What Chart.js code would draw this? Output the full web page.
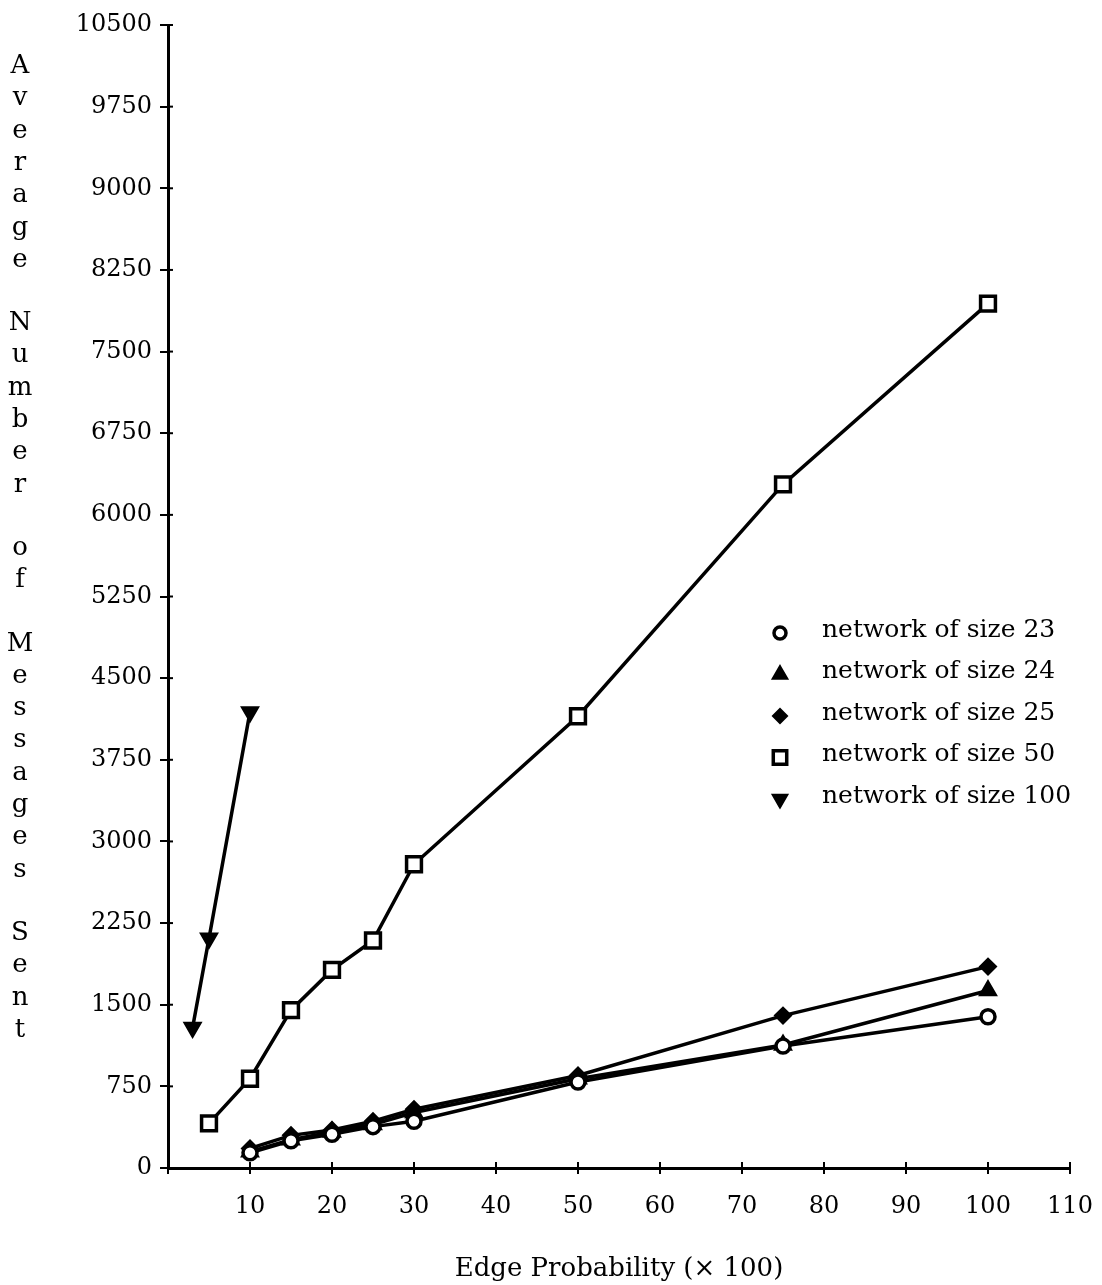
<!DOCTYPE html>
<html>
<head>
<meta charset="utf-8">
<script src="https://cdn.jsdelivr.net/npm/chart.js@4.4.1/dist/chart.umd.min.js"></script>
<style>
  html, body { margin: 0; padding: 0; background: #fff; }
  #wrap { width: 1102px; height: 1285px; position: relative; }
</style>
</head>
<body>
<div id="wrap"><canvas id="chart"></canvas></div>
<script>
// edge probabilities (x 100)
const smallX = [10, 15, 20, 25, 30, 50, 75, 100];
const size50X = [5, 10, 15, 20, 25, 30, 50, 75, 100];
const size100X = [3, 5, 10];

// average number of messages sent
const size23 = [140, 250, 310, 380, 430, 790, 1120, 1390];
const size24 = [150, 260, 330, 400, 510, 820, 1130, 1630];
const size25 = [180, 300, 350, 430, 540, 850, 1400, 1850];
const size50 = [410, 820, 1450, 1820, 2090, 2790, 4150, 6280, 7940];
const size100 = [1290, 2110, 4190];

const seriesLabels = ["network of size 23", "network of size 24", "network of size 25",
  "network of size 50", "network of size 100"];
const yTitle = "Average Number of Messages Sent";
const xTitle = "Edge Probability (\u00d7 100)";

const FONT = "'DejaVu Serif', 'Liberation Serif', serif";

function pts(xs, ys) {
  return xs.map((x, i) => ({ x: x, y: ys[i] }));
}

function makeSet(label, data, style, rotation, radius, fillColor) {
  return {
    label: label,
    data: data,
    borderColor: "#000",
    borderWidth: 3.5,
    pointStyle: style,
    pointRotation: rotation,
    pointRadius: radius,
    pointBorderWidth: 3.5,
    pointBackgroundColor: fillColor,
    pointBorderColor: "#000",
    tension: 0,
    fill: false,
  };
}

// stacked letters for the y title plus the legend inside the plot
const extras = {
  id: "extras",
  afterDraw(chart) {
    const ctx = chart.ctx;
    const area = chart.chartArea;
    ctx.save();
    ctx.fillStyle = "#000";
    ctx.font = "26px " + FONT;
    ctx.textAlign = "center";
    ctx.textBaseline = "alphabetic";
    let y = 73;
    yTitle.split("").forEach((ch) => {
      if (ch !== " ") ctx.fillText(ch, 20, y);
      y += ch === " " ? 31 : 32.3;
    });

    // inner half of the tick marks
    const xs = chart.scales.x, ys = chart.scales.y;
    ctx.strokeStyle = "#000";
    ctx.lineWidth = 2;
    xs.ticks.forEach((t) => {
      const px = xs.getPixelForValue(t.value);
      ctx.beginPath(); ctx.moveTo(px, area.bottom); ctx.lineTo(px, area.bottom - 6); ctx.stroke();
    });
    ys.ticks.forEach((t) => {
      const py = ys.getPixelForValue(t.value);
      ctx.beginPath(); ctx.moveTo(area.left, py); ctx.lineTo(area.left + 5, py); ctx.stroke();
    });

    // legend
    const lx = area.left + 612, tx = area.left + 654;
    let ly = 633;
    ctx.textAlign = "left";
    ctx.textBaseline = "middle";
    ctx.font = "25px " + FONT;
    chart.data.datasets.forEach((ds) => {
      ctx.lineWidth = 3.5;
      ctx.fillStyle = ds.pointBackgroundColor;
      Chart.helpers.drawPoint(ctx, {
        pointStyle: ds.pointStyle,
        rotation: ds.pointRotation,
        radius: ds.pointRadius - 1,
        borderWidth: 3.5,
      }, lx, ly);
      ctx.fillStyle = "#000";
      ctx.fillText(ds.label, tx, ly - 3);
      ly += 41.5;
    });
    ctx.restore();
  },
};

new Chart(document.getElementById("chart"), {
  type: "line",
  data: {
    datasets: [
      makeSet(seriesLabels[0], pts(smallX, size23), "circle", 0, 7, "#fff"),
      makeSet(seriesLabels[1], pts(smallX, size24), "triangle", 0, 8, "#000"),
      makeSet(seriesLabels[2], pts(smallX, size25), "rectRot", 0, 7, "#000"),
      makeSet(seriesLabels[3], pts(size50X, size50), "rect", 0, 10.5, "#fff"),
      makeSet(seriesLabels[4], pts(size100X, size100), "triangle", 180, 8, "#000"),
    ],
  },
  options: {
    responsive: true,
    maintainAspectRatio: false,
    animation: false,
    layout: { padding: { top: 25, right: 32, left: 0, bottom: 0 } },
    plugins: { legend: { display: false }, tooltip: { enabled: false } },
    scales: {
      x: {
        type: "linear",
        min: 0,
        max: 110,
        afterFit: (s) => { s.height = 117; s.paddingLeft = 0; s.paddingRight = 0; },
        border: { color: "#000", width: 3 },
        grid: { drawOnChartArea: false, color: "#000", lineWidth: 2, tickLength: 6 },
        ticks: {
          stepSize: 10,
          color: "#000",
          padding: 18,
          font: { family: FONT, size: 24 },
          maxRotation: 0,
          callback: (v) => (v === 0 ? "" : String(v)),
        },
        title: {
          display: true,
          text: xTitle,
          color: "#000",
          font: { family: FONT, size: 26 },
          padding: { top: 0, bottom: 0 },
        },
      },
      y: {
        min: 0,
        max: 10500,
        afterFit: (s) => { s.width = 168; s.paddingTop = 0; s.paddingBottom = 0; },
        border: { color: "#000", width: 3 },
        grid: { drawOnChartArea: false, color: "#000", lineWidth: 2, tickLength: 8 },
        ticks: {
          stepSize: 750,
          color: "#000",
          padding: 8,
          font: { family: FONT, size: 24 },
          callback: (v) => String(v),
        },
      },
    },
  },
  plugins: [extras],
});
</script>
</body>
</html>
